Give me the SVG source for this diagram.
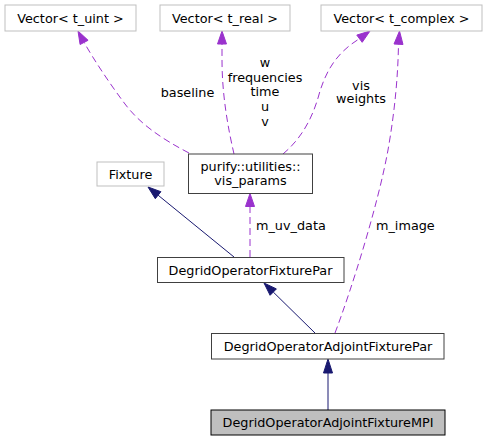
<svg xmlns="http://www.w3.org/2000/svg" width="487" height="441" viewBox="0 0 487 441">
<style>
text{font-family:"DejaVu Sans","Liberation Sans",sans-serif;font-size:12.8px;fill:#000}
.n text{text-anchor:middle}
.g rect{fill:#fff;stroke:#bfbfbf;stroke-width:1}
.b rect{fill:#fff;stroke:#404040;stroke-width:1}
.d{fill:none;stroke:#9a32cd;stroke-width:1;stroke-dasharray:7,4}
.s{fill:none;stroke:#191970;stroke-width:1}
.pa{fill:#9a32cd;stroke:#9a32cd}
.ba{fill:#191970;stroke:#191970}
</style>
<rect width="487" height="441" fill="#fff"/>
<g id="edges">
<path class="d" d="M189,153 C162,139 140,124 125,104 C110,84 94,60 84.1,42.4"/>
<polygon class="pa" points="78,31 88.1,40.3 80.1,44.5"/>
<path class="d" d="M234,154 C228,128 222,95 222,60 L222,44"/>
<polygon class="pa" points="222,31 226.5,44 217.5,44"/>
<path class="d" d="M283,154 C302,138 312,118 318,98 C325,72 336,53 359.5,38.7"/>
<polygon class="pa" points="370,31 362.2,42.3 356.8,35.1"/>
<path class="d" d="M335,333 C352,288 378,205 388,150 C395,110 398,75 398.5,44"/>
<polygon class="pa" points="399.5,31 403,44.5 394,44"/>
<path class="d" d="M250,257 L250,206.5"/>
<polygon class="pa" points="250,193.5 254.5,206.5 245.5,206.5"/>
<path class="s" d="M234,257 L158.1,195.2"/>
<polygon class="ba" points="148,187 160.9,191.7 155.3,198.7"/>
<path class="s" d="M315,333 L273.3,292.1"/>
<polygon class="ba" points="264,283 276.4,288.9 270.1,295.3"/>
<path class="s" d="M328,410 L328,373"/>
<polygon class="ba" points="328,359 332.5,373 323.5,373"/>
<text x="187.5" y="96.5" text-anchor="middle">baseline</text>
<text x="265" y="67" text-anchor="middle">w</text>
<text x="265" y="81.5" text-anchor="middle">frequencies</text>
<text x="265" y="96" text-anchor="middle">time</text>
<text x="265" y="111" text-anchor="middle">u</text>
<text x="265" y="125.5" text-anchor="middle">v</text>
<text x="361" y="89.5" text-anchor="middle">vis</text>
<text x="361" y="103" text-anchor="middle">weights</text>
<text x="256" y="229.5">m_uv_data</text>
<text x="376" y="229.5">m_image</text>
</g>
<g id="node-vec-uint" class="n g"><rect x="5" y="5" width="131" height="26"/><text x="70.5" y="22.5">Vector&lt; t_uint &gt;</text></g>
<g id="node-vec-real" class="n g"><rect x="160" y="5" width="130" height="26"/><text x="225" y="22.5">Vector&lt; t_real &gt;</text></g>
<g id="node-vec-complex" class="n g"><rect x="321" y="5" width="161" height="26"/><text x="401.5" y="22.5">Vector&lt; t_complex &gt;</text></g>
<g id="node-fixture" class="n g"><rect x="97" y="162" width="67" height="24"/><text x="130.5" y="178.5">Fixture</text></g>
<g id="node-vis-params" class="n b"><rect x="188.5" y="154" width="124" height="39.5"/><text x="250.5" y="171">purify::utilities::</text><text x="250.5" y="185">vis_params</text></g>
<g id="node-fixture-par" class="n b"><rect x="157.5" y="257.5" width="186.5" height="25"/><text x="250.5" y="274.5">DegridOperatorFixturePar</text></g>
<g id="node-adjoint-par" class="n b"><rect x="211.5" y="333.5" width="232.5" height="25.5"/><text x="328" y="350.5">DegridOperatorAdjointFixturePar</text></g>
<g id="node-adjoint-mpi" class="n"><rect x="211" y="410" width="234" height="25" fill="#bfbfbf" stroke="#000"/><text x="328" y="427">DegridOperatorAdjointFixtureMPI</text></g>
</svg>
